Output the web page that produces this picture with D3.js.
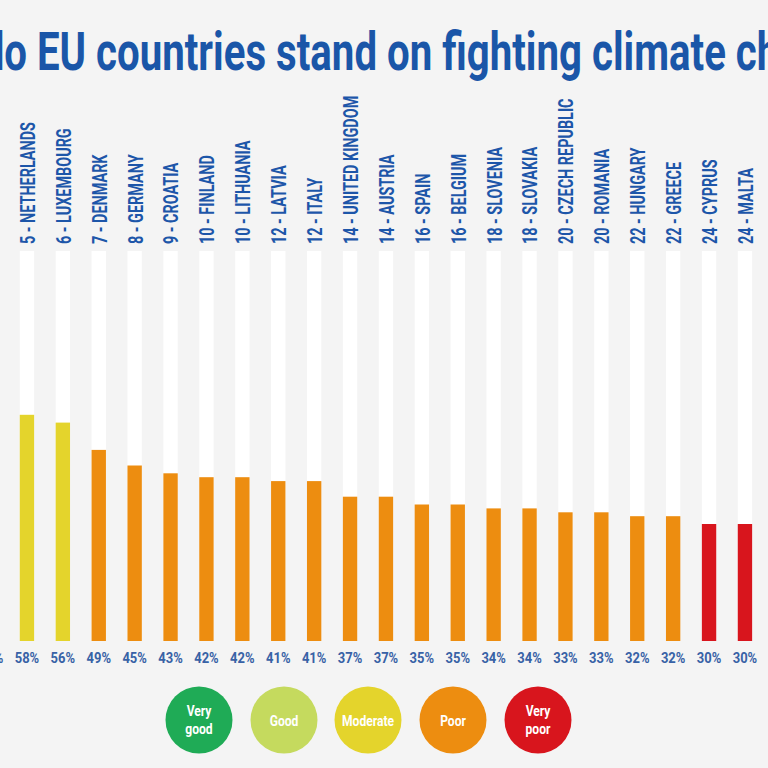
<!DOCTYPE html>
<html>
<head>
<meta charset="utf-8">
<script src="https://cdn.jsdelivr.net/npm/d3@7"></script>
<style>
  html, body { margin: 0; padding: 0; background: #f4f4f4; }
  svg { display: block; }
  text { font-family: Roboto, "Liberation Sans", sans-serif; font-weight: 700; }
</style>
</head>
<body>
<svg id="chart" width="768" height="768"></svg>
<script>
// ---- data ----
const ranks = ["4", "5", "6", "7", "8", "9", "10", "10", "12", "12", "14", "14", "16", "16", "18", "18", "20", "20", "22", "22", "24", "24"];
const countries = ["SWEDEN", "NETHERLANDS", "LUXEMBOURG", "DENMARK", "GERMANY", "CROATIA", "FINLAND", "LITHUANIA", "LATVIA", "ITALY", "UNITED KINGDOM", "AUSTRIA", "SPAIN", "BELGIUM", "SLOVENIA", "SLOVAKIA", "CZECH REPUBLIC", "ROMANIA", "HUNGARY", "GREECE", "CYPRUS", "MALTA"];
const values = [76, 58, 56, 49, 45, 43, 42, 42, 41, 41, 37, 37, 35, 35, 34, 34, 33, 33, 32, 32, 30, 30];
const ratings = ["Good", "Moderate", "Moderate", "Poor", "Poor", "Poor", "Poor", "Poor", "Poor", "Poor", "Poor", "Poor", "Poor", "Poor", "Poor", "Poor", "Poor", "Poor", "Poor", "Poor", "Very poor", "Very poor"];
const legendKeys = ["Very good", "Good", "Moderate", "Poor", "Very poor"];
const legendColors = ["#1fab56", "#c5da5e", "#e4d42c", "#ed8d10", "#d8151d"];
const legendLines = [["Very", "good"], ["Good"], ["Moderate"], ["Poor"], ["Very", "poor"]];
const titleText = "How do EU countries stand on fighting climate change?";

// ---- setup ----
const W = 768, H = 768;
const svg = d3.select("#chart");
svg.append("rect").attr("width", W).attr("height", H).attr("fill", "#f4f4f4");

const color = d3.scaleOrdinal().domain(legendKeys).range(legendColors);

// band scale: bar centres step ~35.9px, first visible bar (index 1) at x=27
const idx = d3.range(values.length);
const x = d3.scaleBand().domain(idx).range([-26.9, -26.9 + 35.9 * values.length]).paddingInner(0.6).paddingOuter(0.3);
const y = d3.scaleLinear().domain([0, 100]).range([641, 251]);

// white tracks
svg.append("g").selectAll("rect").data(idx).join("rect")
  .attr("x", d => x(d)).attr("width", x.bandwidth())
  .attr("y", y(100)).attr("height", y(0) - y(100))
  .attr("fill", "#ffffff");

// bars
svg.append("g").selectAll("rect").data(idx).join("rect")
  .attr("x", d => x(d)).attr("width", x.bandwidth())
  .attr("y", d => y(values[d])).attr("height", d => y(0) - y(values[d]))
  .attr("fill", d => color(ratings[d]));

// country labels (rotated, condensed)
const lab = svg.append("g").selectAll("text").data(idx).join("text")
  .attr("font-size", 20)
  .attr("fill", "#1d56a9")
  .attr("dominant-baseline", "central")
  .text(d => ranks[d] + " - " + countries[d]);
const refW = lab.nodes()[1].getComputedTextLength();
const labScale = 122 / refW;
lab.attr("transform", d => `translate(${x(d) + x.bandwidth() / 2 + 1},244) rotate(-90) scale(${labScale},1)`);

// percent labels
const pct = svg.append("g").selectAll("text").data(idx).join("text")
  .attr("font-size", 15)
  .attr("fill", "#3862a6")
  .attr("text-anchor", "middle")
  .text(d => values[d] + "%");
const pW = pct.nodes()[1].getComputedTextLength();
const pScale = 24.5 / pW;
pct.attr("transform", d => `translate(${x(d) + x.bandwidth() / 2},662.5) scale(${pScale},1)`);

// title (cropped on both sides in the reference)
const title = svg.append("text")
  .attr("font-size", 53)
  .attr("font-weight", 900)
  .attr("fill", "#1a56a8")
  .text(titleText);
const tn = title.node();
const iE = titleText.indexOf("EU");
const iH = titleText.indexOf("change") + 1;
const xE = tn.getStartPositionOfChar(iE).x;
const xH = tn.getStartPositionOfChar(iH).x;
const tScale = (757 - 37) / (xH - xE);
title.attr("transform", `translate(${37 - xE * tScale},70) scale(${tScale},1)`);

// legend
const lg = svg.append("g").selectAll("g").data(legendKeys).join("g")
  .attr("transform", (d, i) => `translate(${[199, 284, 368, 453, 538][i]},720)`);
lg.append("circle").attr("r", 33.5).attr("fill", d => color(d));
lg.each(function(d, i) {
  const g = d3.select(this);
  const lines = legendLines[i];
  lines.forEach((t, j) => {
    const dy = lines.length === 1 ? 5.5 : (j === 0 ? -4 : 14);
    g.append("text")
      .attr("text-anchor", "middle")
      .attr("font-size", 15.5)
      .attr("fill", "#ffffff")
      .attr("transform", `translate(0,${dy}) scale(0.78,1)`)
      .text(t);
  });
});
</script>
</body>
</html>
